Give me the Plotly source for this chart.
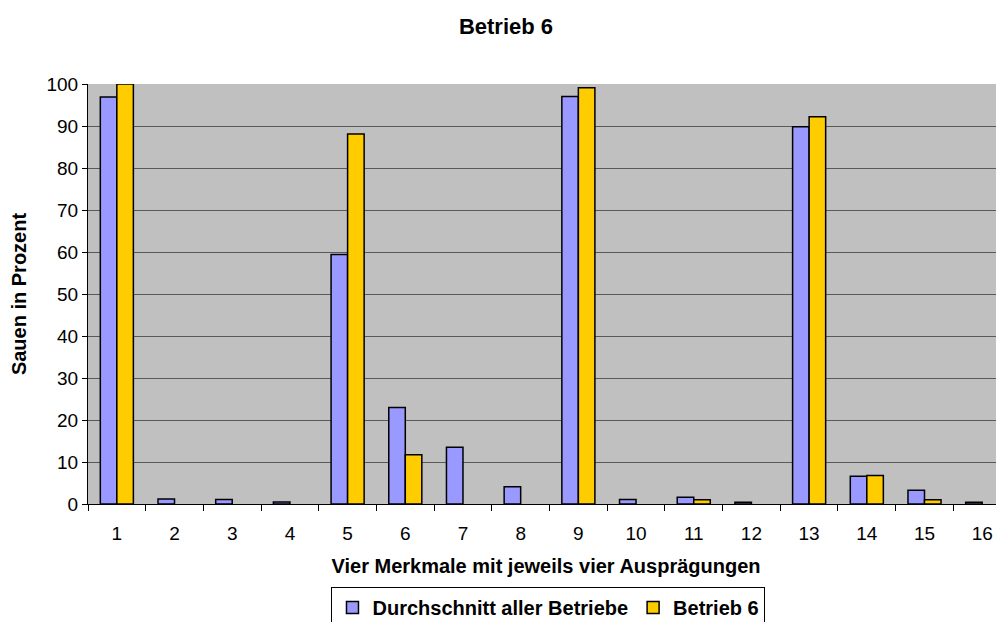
import plotly.graph_objects as go

categories = list(range(1, 17))
durchschnitt = [96.9, 1.2, 1.1, 0.5, 59.4, 23.0, 13.5, 4.1, 97.0, 1.1, 1.6, 0.4, 89.8, 6.6, 3.3, 0.4]
betrieb6 = [100.0, None, None, None, 88.1, 11.7, None, None, 99.1, None, 1.0, None, 92.2, 6.8, 1.0, None]
y_ticks = list(range(0, 101, 10))

FONT = "Liberation Sans, Arial, sans-serif"

fig = go.Figure()
fig.add_trace(go.Bar(x=categories, y=durchschnitt, name="Durchschnitt aller Betriebe",
                     marker=dict(color="#9999FF", line=dict(color="black", width=1.5))))
fig.add_trace(go.Bar(x=categories, y=betrieb6, name="Betrieb 6",
                     marker=dict(color="#FFCC00", line=dict(color="black", width=1.5))))

# page body has an 8px margin: the figure is sized/offset to fill the 1004x622 window
fig.update_layout(
    width=996, height=614,
    margin=dict(l=80, r=0, t=76, b=118),
    paper_bgcolor="white", plot_bgcolor="#C0C0C0",
    font=dict(family=FONT, color="black", size=19),
    barmode="group", bargap=0.427, bargroupgap=0,
    title=dict(text="<b>Betrieb 6</b>", x=0.5, xanchor="center", y=1 - 18 / 614,
               yanchor="middle", font=dict(size=22, family=FONT)),
    showlegend=True,
    legend=dict(orientation="h", x=0.5027, xanchor="center",
                yref="container", y=1 - 579 / 614, yanchor="top",
                bordercolor="black", borderwidth=1,
                font=dict(size=20, family=FONT, weight="bold"),
                bgcolor="white", itemwidth=30, traceorder="normal"),
    xaxis=dict(range=[0.5, 16.378], tickmode="array", tickvals=categories,
               ticktext=[str(c) for c in categories], ticks="", showgrid=False,
               showline=True, linecolor="black", linewidth=1, zeroline=False,
               automargin=False, tickfont=dict(size=19), ticklabelstandoff=12,
               minor=dict(tickmode="array", tickvals=[c + 0.5 for c in range(0, 17)],
                          ticks="outside", ticklen=6, tickcolor="black", showgrid=False),
               title=dict(text="<b>Vier Merkmale mit jeweils vier Ausprägungen</b>",
                          font=dict(size=20), standoff=16)),
    yaxis=dict(range=[0, 100], tickmode="array", tickvals=y_ticks, ticks="outside",
               ticklen=5, tickcolor="black", showline=True, linecolor="black", linewidth=1,
               showgrid=True, gridcolor="#5a5a5a", gridwidth=1, zeroline=False,
               automargin=False, tickfont=dict(size=19),
               title=dict(text="<b>Sauen in Prozent</b>", font=dict(size=20), standoff=17)),
)

fig.write_html("out.html")
